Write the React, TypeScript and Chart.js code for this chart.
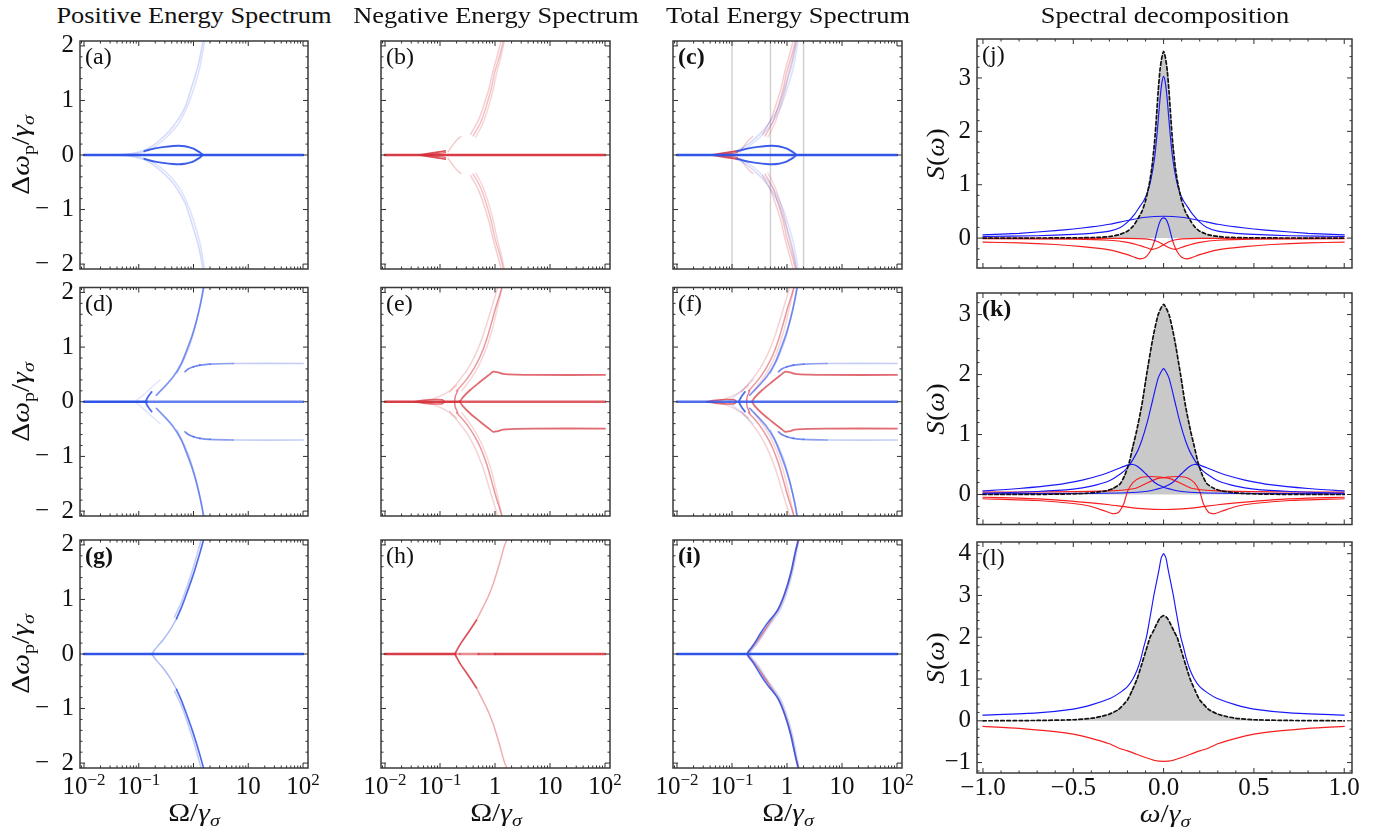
import React, { useEffect, useRef } from "react";
import { Chart, registerables } from "chart.js";

Chart.register(...registerables);

type P = [number, number];
type ColorFn = (x: number, y: number) => string;

const SERIF = '"Liberation Serif", "Times New Roman", serif';
const blue = (a: number) => `rgba(48, 84, 232, ${a})`;
const red = (a: number) => `rgba(214, 50, 60, ${a})`;
const SBLUE = "rgb(24, 24, 250)";
const SRED = "rgb(246, 30, 30)";
const GRIDLINE = "rgba(175, 175, 175, 0.6)";
const FILL = "rgb(201, 201, 201)";

// ================= axis ticks / labels =================
const omegaMajor = [0.01, 0.1, 1, 10, 100];
const omegaLabels: [string, string][] = [["10", "−2"], ["10", "−1"], ["1", ""], ["10", ""], ["10", "2"]];
const dwMajor = [-2, -1, 0, 1, 2];
const dwLabels = ["−\u20022", "−\u20021", "0", "1", "2"];
const wMajor = [-1, -0.5, 0, 0.5, 1];
const wLabels = ["−1.0", "−0.5", "0.0", "0.5", "1.0"];
const sMajorJK = [0, 1, 2, 3];
const sLabelsJK = ["0", "1", "2", "3"];
const sMajorL = [-1, 0, 1, 2, 3, 4];
const sLabelsL = ["−1", "0", "1", "2", "3", "4"];

// ================= spectra: [Ω/γσ, Δωp/γσ] =================
const zeroLine: P[] = [[0.01, 0], [0.1, 0], [0.14, 0], [0.19, 0], [0.23, 0], [0.5, 0], [1, 0], [100, 0]];
const markerOmegas = [0.1, 0.5, 2];

// (a) positive energy, weak drive
const posLoopUpper: P[] = [[0.126, 0.07], [0.16, 0.1], [0.21, 0.125], [0.3, 0.15], [0.42, 0.165], [0.54, 0.17], [0.7, 0.16], [0.85, 0.14], [1.0, 0.115], [1.2, 0.07], [1.35, 0.035], [1.5, 0]];
const posFaintA: P[] = [[0.04, 0], [0.08, 0.03], [0.12, 0.08], [0.18, 0.17], [0.244, 0.275], [0.37, 0.45], [0.5, 0.62], [0.7, 0.88], [0.93, 1.25], [1.22, 1.65], [1.5, 2.1], [1.6, 2.3]];
const posFaintB: P[] = [[0.05, 0], [0.1, 0.03], [0.15, 0.08], [0.2, 0.16], [0.28, 0.27], [0.4, 0.42], [0.55, 0.6], [0.78, 0.9], [1.0, 1.2], [1.3, 1.6], [1.6, 2.1], [1.7, 2.3]];

// (b) negative energy, weak drive
const negArrowOuter: P[] = [[0.042, 0], [0.06, 0.025], [0.09, 0.052], [0.125, 0.075]];
const negArrowInner: P[] = [[0.05, 0], [0.075, 0.018], [0.105, 0.035], [0.125, 0.045]];
const negFaintTip: P[] = [[0.14, 0.06], [0.17, 0.18], [0.2, 0.27], [0.24, 0.34]];
const negFaint1: P[] = [[0.4, 0.35], [0.55, 0.6], [0.69, 0.89], [0.85, 1.2], [0.98, 1.5], [1.2, 1.8], [1.39, 2.05], [1.5, 2.25]];
const negFaint2: P[] = [[0.36, 0.38], [0.5, 0.64], [0.63, 0.92], [0.78, 1.22], [0.9, 1.5], [1.1, 1.82], [1.3, 2.1], [1.4, 2.25]];
const negFaint3: P[] = [[0.45, 0.33], [0.6, 0.58], [0.76, 0.88], [0.92, 1.18], [1.06, 1.48], [1.28, 1.8], [1.48, 2.1], [1.58, 2.25]];

// (d) positive energy, intermediate drive
const dHook: P[] = [[0.172, 0.18], [0.15, 0.1], [0.137, 0.03], [0.135, 0], [0.137, -0.03], [0.15, -0.1], [0.172, -0.18]];
const dRise: P[] = [[0.21, 0.12], [0.3, 0.28], [0.43, 0.46], [0.6, 0.7], [0.75, 0.94], [0.95, 1.22], [1.14, 1.49], [1.35, 1.8], [1.51, 2.05], [1.6, 2.2]];
const dRiseCopy: P[] = [[0.5, 0.52], [0.7, 0.82], [0.9, 1.1], [1.15, 1.5], [1.4, 1.9], [1.55, 2.2]];
const dFaintV: P[] = [[0.085, 0], [0.12, 0.12], [0.17, 0.26], [0.245, 0.4]];
const dPlateau: P[] = [[0.7, 0.55], [0.8, 0.6], [1.0, 0.64], [1.31, 0.67], [2, 0.69], [5.3, 0.7], [100, 0.7]];

// (e) negative energy, intermediate drive
const eFish: P[] = [[0.035, 0], [0.05, 0.025], [0.08, 0.04], [0.11, 0.035], [0.12, 0]];
const eFaintV: P[] = [[0.06, 0.02], [0.1, 0.1], [0.15, 0.2], [0.2, 0.3]];
const eHook: P[] = [[0.21, 0.2], [0.19, 0.1], [0.185, 0], [0.19, -0.1], [0.21, -0.2]];
const eRise1: P[] = [[0.2, 0.2], [0.3, 0.4], [0.42, 0.62], [0.55, 0.85], [0.7, 1.13], [0.85, 1.42], [1.05, 1.75], [1.3, 2.05], [1.4, 2.2]];
const eRise2: P[] = [[0.15, 0.18], [0.22, 0.38], [0.32, 0.6], [0.45, 0.88], [0.6, 1.2], [0.8, 1.6], [1.05, 2.0], [1.2, 2.2]];
const eRise3: P[] = [[0.25, 0.2], [0.38, 0.45], [0.5, 0.65], [0.65, 0.9], [0.85, 1.25], [1.1, 1.7], [1.35, 2.1], [1.45, 2.2]];
const ePlateau: P[] = [[0.23, 0], [0.26, 0.08], [0.35, 0.21], [0.53, 0.36], [0.75, 0.48], [0.93, 0.55], [1.1, 0.54], [1.4, 0.51], [2.5, 0.495], [5, 0.49], [100, 0.49]];

// (g)-(i) strong drive
const gRiseLow: P[] = [[0.172, 0], [0.19, 0.06], [0.22, 0.14], [0.28, 0.26], [0.38, 0.45], [0.49, 0.65]];
const gRiseHigh: P[] = [[0.49, 0.65], [0.6, 0.85], [0.75, 1.11], [0.95, 1.4], [1.14, 1.65], [1.35, 1.9], [1.51, 2.08], [1.6, 2.2]];
const gRiseCopy: P[] = [[0.45, 0.68], [0.6, 0.95], [0.8, 1.3], [1.0, 1.6], [1.3, 2.0], [1.45, 2.2]];
const hRiseStrong: P[] = [[0.187, 0], [0.2, 0.06], [0.24, 0.2], [0.33, 0.4], [0.46, 0.62]];
const hRiseFaint: P[] = [[0.46, 0.62], [0.6, 0.85], [0.75, 1.05], [0.93, 1.29], [1.2, 1.65], [1.45, 1.95], [1.64, 2.1], [1.7, 2.2]];
const iBlueRise: P[] = [[0.187, 0], [0.2, 0.05], [0.25, 0.18], [0.33, 0.38], [0.45, 0.58], [0.67, 0.8], [0.9, 1.1], [1.16, 1.47], [1.4, 1.85], [1.58, 2.08], [1.65, 2.2]];
const iRedRise: P[] = [[0.187, 0], [0.21, 0.06], [0.27, 0.2], [0.36, 0.38], [0.5, 0.6], [0.72, 0.85], [0.95, 1.15], [1.2, 1.5], [1.45, 1.9], [1.65, 2.1], [1.72, 2.2]];
const iBlueHalo: P[] = [[0.2, 0], [0.23, 0.08], [0.3, 0.22], [0.4, 0.42], [0.55, 0.62], [0.75, 0.82], [1.0, 1.15], [1.25, 1.5], [1.5, 1.9], [1.7, 2.2]];

// ================= spectral decomposition: [ω/γσ, S(ω)] (half = ω ≥ 0) =================
const jTotalHalf: P[] = [[0, 3.5], [0.01, 3.38], [0.02, 3.15], [0.03, 2.75], [0.04, 2.25], [0.05, 1.8], [0.065, 1.32], [0.08, 1.0], [0.1, 0.7], [0.12, 0.5], [0.15, 0.32], [0.17, 0.22], [0.2, 0.13], [0.25, 0.06], [0.3, 0.03], [0.35, 0.015], [0.45, 0.007], [0.6, 0.003], [0.8, 0.001], [1, 0]];
const jTallHalf: P[] = [[0, 3.03], [0.01, 2.9], [0.02, 2.6], [0.035, 2.0], [0.05, 1.5], [0.07, 1.1], [0.09, 0.85], [0.11, 0.7], [0.13, 0.6], [0.16, 0.45], [0.2, 0.3], [0.24, 0.2], [0.3, 0.13], [0.4, 0.09], [0.5, 0.07], [0.7, 0.045], [1, 0.03]];
const jWideHalf: P[] = [[0, 0.41], [0.1, 0.39], [0.2, 0.33], [0.3, 0.26], [0.4, 0.21], [0.5, 0.17], [0.6, 0.14], [0.8, 0.09], [1, 0.06]];
const jHumpHalf: P[] = [[0, 0.38], [0.01, 0.365], [0.02, 0.31], [0.03, 0.21], [0.04, 0.08], [0.05, -0.05], [0.063, -0.17], [0.08, -0.28], [0.1, -0.36], [0.13, -0.39], [0.16, -0.36], [0.2, -0.31], [0.3, -0.22], [0.45, -0.16], [0.6, -0.12], [0.8, -0.09], [1, -0.075]];
const jSkewLeft: P[] = [[-1, -0.01], [-0.5, -0.02], [-0.3, -0.04], [-0.2, -0.08], [-0.12, -0.15], [-0.067, -0.21], [-0.03, -0.18], [0, -0.125], [0.03, -0.07], [0.06, -0.035], [0.1, -0.015], [0.2, -0.005], [1, 0]];

const kTotalHalf: P[] = [[0, 3.17], [0.03, 3.0], [0.06, 2.6], [0.094, 2.0], [0.12, 1.5], [0.15, 1.05], [0.17, 0.8], [0.19, 0.54], [0.215, 0.32], [0.24, 0.18], [0.28, 0.1], [0.32, 0.06], [0.43, 0.02], [0.6, 0.005], [1, 0]];
const kCenterHalf: P[] = [[0, 2.1], [0.03, 1.94], [0.06, 1.58], [0.09, 1.21], [0.12, 0.91], [0.15, 0.69], [0.2, 0.45], [0.25, 0.32], [0.3, 0.23], [0.4, 0.14], [0.5, 0.09], [0.7, 0.05], [1, 0.02]];
const kHumpLeft: P[] = [[-1, 0.06], [-0.8, 0.1], [-0.6, 0.16], [-0.45, 0.24], [-0.35, 0.32], [-0.26, 0.42], [-0.2, 0.49], [-0.17, 0.5], [-0.14, 0.46], [-0.1, 0.35], [-0.05, 0.2], [0, 0.12], [0.05, 0.08], [0.1, 0.05], [0.2, 0.03], [0.4, 0.02], [1, 0.01]];
const kRedWLeft: P[] = [[-1, -0.07], [-0.7, -0.1], [-0.5, -0.15], [-0.4, -0.2], [-0.32, -0.28], [-0.28, -0.32], [-0.25, -0.3], [-0.22, -0.15], [-0.2, 0.05], [-0.17, 0.2], [-0.13, 0.28], [-0.08, 0.3], [-0.02, 0.29], [0.04, 0.26], [0.1, 0.18], [0.16, 0.1], [0.3, 0.06], [0.6, 0.045], [1, 0.04]];
const kRedBroadHalf: P[] = [[0, -0.25], [0.1, -0.24], [0.2, -0.21], [0.3, -0.17], [0.4, -0.14], [0.6, -0.09], [0.8, -0.06], [1, -0.045]];

const lTotalHalf: P[] = [[0, 2.52], [0.02, 2.46], [0.04, 2.3], [0.06, 2.12], [0.075, 2.0], [0.1, 1.65], [0.125, 1.3], [0.147, 1.0], [0.175, 0.72], [0.2, 0.5], [0.25, 0.27], [0.3, 0.16], [0.35, 0.1], [0.4, 0.06], [0.5, 0.025], [0.7, 0.008], [1, 0]];
const lBlueHalf: P[] = [[0, 4.0], [0.013, 3.9], [0.026, 3.6], [0.04, 3.3], [0.054, 3.0], [0.068, 2.65], [0.081, 2.33], [0.095, 2.0], [0.109, 1.78], [0.125, 1.5], [0.146, 1.22], [0.17, 1.0], [0.2, 0.82], [0.25, 0.65], [0.294, 0.54], [0.4, 0.38], [0.5, 0.28], [0.7, 0.19], [1, 0.135]];
const lRedHalf: P[] = [[0, -0.97], [0.05, -0.95], [0.1, -0.88], [0.15, -0.8], [0.2, -0.72], [0.25, -0.65], [0.3, -0.55], [0.4, -0.42], [0.5, -0.32], [0.6, -0.26], [0.8, -0.18], [1, -0.135]];

// ================= helpers =================
const flipY = (d: P[]): P[] => d.map(([x, y]) => [x, -y] as P);
const flipX = (d: P[]): P[] => d.map(([x, y]) => [-x, y] as P).reverse();
const sym = (h: P[]): P[] => [...flipX(h.slice(1)), ...h];

type DS = { data: P[]; color: string | ColorFn; width: number; dash?: number[]; fill?: string; tension?: number };
const ds = (data: P[], color: string | ColorFn, width = 1.5, extra: Partial<DS> = {}): DS => ({ data, color, width, ...extra });
const pair = (data: P[], color: string | ColorFn, width = 1.5): DS[] => [ds(data, color, width), ds(flipY(data), color, width)];

function toDataset(d: DS, i: number, n: number) {
  const o: any = {
    data: d.data.map(([x, y]) => ({ x, y })),
    borderColor: typeof d.color === "string" ? d.color : "#000",
    borderWidth: d.width,
    pointRadius: 0,
    tension: d.tension ?? 0.3,
    fill: d.fill ? "origin" : false,
    backgroundColor: d.fill ?? "transparent",
    borderDash: d.dash ?? [],
    borderCapStyle: "round",
    clip: 0,
    order: n - i,
  };
  if (typeof d.color === "function") {
    const fn = d.color;
    o.segment = { borderColor: (c: any) => fn((c.p0.parsed.x + c.p1.parsed.x) / 2, (c.p0.parsed.y + c.p1.parsed.y) / 2) };
  }
  return o;
}

// ================= styles as functions =================
const fadeBlue: ColorFn = (x) => blue(x <= 1 ? 0.7 : Math.max(0.22, 0.7 - 0.24 * Math.log10(x)));
const zeroD: ColorFn = (x) => (x < 0.14 ? blue(1) : blue(0.75));
const zeroE: ColorFn = (x) => (x < 0.23 ? red(0.95) : red(0.8));
const zeroH: ColorFn = (x) => (x < 0.19 ? red(0.95) : x < 1 ? red(0.4 + 0.4 * (Math.log10(x) + 0.72) / 0.72) : red(0.88));
const bySign: ColorFn = (_x, y) => (y >= 0 ? SBLUE : SRED);

// ================= panel series =================
const aFaint = [...pair(posFaintA, blue(0.22)), ...pair(posFaintB, blue(0.17))];
const aLoop = pair(posLoopUpper, blue(0.95), 1.9);
const bFaint = [
  ...pair(negFaint1, red(0.3)), ...pair(negFaint2, red(0.24)), ...pair(negFaint3, red(0.2)), ...pair(negFaintTip, red(0.25)),
];
const bArrow = [...pair(negArrowOuter, red(0.85), 1.6), ...pair(negArrowInner, red(0.7), 1.4)];
const dLines = [
  ...pair(dFaintV, blue(0.15)), ...pair(dRiseCopy, blue(0.25)), ...pair(dRise, blue(0.62), 1.7),
  ds(dHook, blue(0.85), 1.8), ...pair(dPlateau, fadeBlue, 1.7),
];
const eFaint = [
  ...pair(eFaintV, red(0.2)), ...pair(eRise2, red(0.22)), ...pair(eRise3, red(0.2)), ...pair(eRise1, red(0.5)),
];
const eMain = [ds(eHook, red(0.6)), ...pair(eFish, red(0.75), 1.6), ...pair(ePlateau, red(0.72), 1.8)];
const vLines = markerOmegas.map((o) => ds([[o, -2.3], [o, 2.3]], GRIDLINE, 1.4));

const totalFill = (h: P[]) => ds(sym(h), "transparent", 0, { fill: FILL, tension: 0.2 });
const totalDash = (h: P[]) => ds(sym(h), "#111", 1.7, { dash: [3.5, 2.5], tension: 0.2 });
const sl = (d: P[], c: string | ColorFn) => ds(d, c, 1.15, { tension: 0.2 });

type Spec = {
  key: string; bold?: boolean;
  left: number; right: number; top: number; bottom: number;
  log: boolean; xMin: number; xMax: number; yMin: number; yMax: number;
  xMajor: number[]; xMinor: number[]; yMajor: number[]; yMinor: number[];
  xLabels?: (string | [string, string])[]; yLabels?: string[]; xLabelDy?: number;
  series: DS[];
};

const COLS = [[80, 308], [381, 610], [673, 902], [977, 1352]];
const ROWS_L = [[41, 269], [287.5, 516], [540, 768]];
const ROWS_R = [[39, 268], [293, 524.5], [542, 773]];
const PAD = { l: 72, r: 22, t: 10, b: 50 };

const logMinor: number[] = [];
for (let e = -3; e <= 2; e++) for (let k = 2; k <= 9; k++) logMinor.push(k * Math.pow(10, e));
const stepMinor = (a: number, b: number, s: number, majorStep: number) => {
  const out: number[] = [];
  for (let v = a; v <= b + 1e-9; v += s) {
    const r = Math.round(v * 1000) / 1000;
    if (Math.abs(r / majorStep - Math.round(r / majorStep)) > 1e-6) out.push(r);
  }
  return out;
};
const dwMinor = stepMinor(-2, 2, 0.2, 1);
const wMinor = stepMinor(-1, 1, 0.1, 0.5);

const OM_MIN = Math.pow(10, -2.073), OM_MAX = Math.pow(10, 2.091);

function leftSpec(key: string, col: number, row: number, series: DS[], bold = false): Spec {
  return {
    key, bold, left: COLS[col][0], right: COLS[col][1], top: ROWS_L[row][0], bottom: ROWS_L[row][1],
    log: true, xMin: OM_MIN, xMax: OM_MAX, yMin: -2.09, yMax: 2.09,
    xMajor: omegaMajor, xMinor: logMinor, yMajor: dwMajor, yMinor: dwMinor,
    xLabels: row === 2 ? omegaLabels : undefined, yLabels: col === 0 ? dwLabels : undefined, xLabelDy: 26,
    series,
  };
}
function rightSpec(key: string, row: number, yMin: number, yMax: number, yMajor: number[], yLabels: string[], series: DS[], bold = false): Spec {
  return {
    key, bold, left: COLS[3][0], right: COLS[3][1], top: ROWS_R[row][0], bottom: ROWS_R[row][1],
    log: false, xMin: -1.033, xMax: 1.043, yMin, yMax,
    xMajor: wMajor, xMinor: wMinor, yMajor, yMinor: stepMinor(Math.ceil(yMin * 5) / 5, yMax, 0.2, 1),
    xLabels: row === 2 ? wLabels : undefined, yLabels, xLabelDy: 22,
    series,
  };
}

const PANELS: Spec[] = [
  leftSpec("a", 0, 0, [...aFaint, ...aLoop, ds(zeroLine, blue(1), 2.4)]),
  leftSpec("b", 1, 0, [...bFaint, ...bArrow, ds(zeroLine, red(0.95), 2.4)]),
  leftSpec("c", 2, 0, [...vLines, ...bFaint, ...aFaint, ...bArrow, ...aLoop, ds(zeroLine, blue(1), 2.4)], true),
  leftSpec("d", 0, 1, [...dLines, ds(zeroLine, zeroD, 2.4)]),
  leftSpec("e", 1, 1, [...eFaint, ...eMain, ds(zeroLine, zeroE, 2.4)]),
  leftSpec("f", 2, 1, [...eFaint, ...dLines, ...eMain, ds(zeroLine, blue(0.85), 2.4)]),
  leftSpec("g", 0, 2, [...pair(gRiseCopy, blue(0.3)), ...pair(gRiseLow, blue(0.4)), ...pair(gRiseHigh, blue(0.85), 1.7), ds(zeroLine, blue(1), 2.4)], true),
  leftSpec("h", 1, 2, [...pair(hRiseFaint, red(0.4)), ...pair(hRiseStrong, red(0.85), 1.7), ds(zeroLine, zeroH, 2.4)]),
  leftSpec("i", 2, 2, [...pair(iBlueHalo, blue(0.25), 2), ...pair(iRedRise, red(0.6)), ...pair(iBlueRise, blue(0.9), 1.6), ds(zeroLine, blue(1), 2.4)], true),
  rightSpec("j", 0, -0.56, 3.73, sMajorJK, sLabelsJK, [
    totalFill(jTotalHalf), sl(jSkewLeft, SRED), sl(flipX(jSkewLeft), SRED), sl(sym(jHumpHalf), bySign),
    sl(sym(jWideHalf), SBLUE), sl(sym(jTallHalf), SBLUE), totalDash(jTotalHalf),
  ]),
  rightSpec("k", 1, -0.5, 3.36, sMajorJK, sLabelsJK, [
    totalFill(kTotalHalf), sl(sym(kRedBroadHalf), SRED), sl(kRedWLeft, SRED), sl(flipX(kRedWLeft), SRED),
    sl(kHumpLeft, SBLUE), sl(flipX(kHumpLeft), SBLUE), sl(sym(kCenterHalf), SBLUE), totalDash(kTotalHalf),
  ], true),
  rightSpec("l", 2, -1.25, 4.28, sMajorL, sLabelsL, [
    totalFill(lTotalHalf), sl(sym(lRedHalf), SRED), sl(sym(lBlueHalf), SBLUE), totalDash(lTotalHalf),
  ]),
];

// ================= frame / ticks / labels plugin =================
function makeFrame(spec: Spec) {
  return {
    id: "frame_" + spec.key,
    afterDatasetsDraw(chart: any) {
      const { ctx, chartArea: a } = chart;
      const xs = chart.scales.x, ys = chart.scales.y;
      ctx.save();
      ctx.strokeStyle = "#2e2e2e";
      ctx.lineWidth = 1;
      ctx.beginPath();
      const xt = (vals: number[], len: number) =>
        vals.forEach((v) => {
          const p = xs.getPixelForValue(v);
          if (p < a.left + 1 || p > a.right - 1) return;
          ctx.moveTo(p, a.bottom); ctx.lineTo(p, a.bottom - len);
          ctx.moveTo(p, a.top); ctx.lineTo(p, a.top + len);
        });
      const yt = (vals: number[], len: number) =>
        vals.forEach((v) => {
          const p = ys.getPixelForValue(v);
          if (p < a.top + 1 || p > a.bottom - 1) return;
          ctx.moveTo(a.left, p); ctx.lineTo(a.left + len, p);
          ctx.moveTo(a.right, p); ctx.lineTo(a.right - len, p);
        });
      xt(spec.xMajor, 5); xt(spec.xMinor, 2.5); yt(spec.yMajor, 5); yt(spec.yMinor, 2.5);
      ctx.stroke();
      ctx.lineWidth = 1.5;
      ctx.strokeStyle = "#3a3a3a";
      ctx.strokeRect(a.left, a.top, a.right - a.left, a.bottom - a.top);

      ctx.fillStyle = "#111";
      ctx.textAlign = "left";
      ctx.textBaseline = "alphabetic";
      ctx.font = `${spec.bold ? "bold " : ""}24px ${SERIF}`;
      ctx.fillText(`(${spec.key})`, a.left + 5, a.top + 23);

      if (spec.yLabels) {
        ctx.font = `25px ${SERIF}`;
        ctx.textAlign = "right";
        ctx.textBaseline = "middle";
        spec.yMajor.forEach((v, i) => ctx.fillText(spec.yLabels![i], a.left - 6, ys.getPixelForValue(v)));
      }
      if (spec.xLabels) {
        ctx.textBaseline = "alphabetic";
        ctx.textAlign = "left";
        const by = a.bottom + (spec.xLabelDy ?? 24);
        spec.xMajor.forEach((v, i) => {
          const lab = spec.xLabels![i];
          const px = xs.getPixelForValue(v);
          if (typeof lab === "string") {
            ctx.font = `25px ${SERIF}`;
            const w = ctx.measureText(lab).width;
            ctx.fillText(lab, px - w / 2, by);
          } else {
            ctx.font = `25px ${SERIF}`;
            const wb = ctx.measureText(lab[0]).width;
            ctx.font = `17px ${SERIF}`;
            const we = lab[1] ? ctx.measureText(lab[1]).width : 0;
            const x0 = px - (wb + we) / 2;
            ctx.font = `25px ${SERIF}`;
            ctx.fillText(lab[0], x0, by);
            if (lab[1]) {
              ctx.font = `17px ${SERIF}`;
              ctx.fillText(lab[1], x0 + wb, by - 9);
            }
          }
        });
      }
      ctx.restore();
    },
  };
}

function Panel({ spec }: { spec: Spec }) {
  const ref = useRef<HTMLCanvasElement | null>(null);
  const cl = Math.floor(spec.left - PAD.l), ct = Math.floor(spec.top - PAD.t);
  const cr = Math.ceil(spec.right + PAD.r), cb = Math.ceil(spec.bottom + PAD.b);
  const w = cr - cl, h = cb - ct;
  useEffect(() => {
    const n = spec.series.length;
    const chart = new Chart(ref.current as HTMLCanvasElement, {
      type: "line",
      data: { datasets: spec.series.map((s, i) => toDataset(s, i, n)) } as any,
      options: {
        responsive: false,
        animation: false,
        devicePixelRatio: 1,
        events: [],
        layout: { padding: { left: spec.left - cl, right: cr - spec.right, top: spec.top - ct, bottom: cb - spec.bottom } },
        plugins: { legend: { display: false }, tooltip: { enabled: false } },
        scales: {
          x: { type: spec.log ? "logarithmic" : "linear", min: spec.xMin, max: spec.xMax, display: false },
          y: { type: "linear", min: spec.yMin, max: spec.yMax, display: false },
        },
      } as any,
      plugins: [makeFrame(spec)] as any,
    });
    return () => chart.destroy();
  }, []);
  return <canvas ref={ref} width={w} height={h} style={{ position: "absolute", left: cl, top: ct, width: w, height: h }} />;
}

// ================= text overlays =================
const subS: React.CSSProperties = { fontSize: "0.68em", verticalAlign: "-0.32em", lineHeight: 0 };
const base: React.CSSProperties = { position: "absolute", whiteSpace: "nowrap", fontFamily: SERIF, lineHeight: 1, color: "#111" };

const TITLES: [string, number][] = [
  ["Positive Energy Spectrum", 194],
  ["Negative Energy Spectrum", 495.5],
  ["Total Energy Spectrum", 787.5],
  ["Spectral decomposition", 1164.5],
];

function DwLabel() {
  return (
    <span>
      Δ<i>ω</i><span style={subS}>p</span>/<i>γ</i><span style={subS}><i>σ</i></span>
    </span>
  );
}
function OmegaLabel({ big }: { big: boolean }) {
  return (
    <span>
      {big ? "Ω" : <i>ω</i>}/<i>γ</i><span style={subS}><i>σ</i></span>
    </span>
  );
}

export default function App() {
  return (
    <div style={{ position: "absolute", left: 0, top: 0, width: 1393, height: 829, background: "#fff", overflow: "hidden" }}>
      {PANELS.map((p) => (
        <Panel key={p.key} spec={p} />
      ))}
      {TITLES.map(([t, cx]) => (
        <div key={t} style={{ ...base, left: cx, top: 15, fontSize: 24, transform: "translate(-50%, -50%) scaleX(1.1)" }}>
          {t}
        </div>
      ))}
      {ROWS_L.map(([t, b], i) => (
        <div key={"dw" + i} style={{ ...base, left: 20, top: (t + b) / 2, fontSize: 25, transform: "translate(-50%, -50%) rotate(-90deg) scaleX(1.18)" }}>
          <DwLabel />
        </div>
      ))}
      {ROWS_R.map(([t, b], i) => (
        <div key={"s" + i} style={{ ...base, left: 935, top: (t + b) / 2, fontSize: 25, transform: "translate(-50%, -50%) rotate(-90deg) scaleX(1.1)" }}>
          <i>S</i>(<i>ω</i>)
        </div>
      ))}
      {[0, 1, 2].map((c) => (
        <div key={"ox" + c} style={{ ...base, left: (COLS[c][0] + COLS[c][1]) / 2, top: 812, fontSize: 25, transform: "translate(-50%, -50%) scaleX(1.18)" }}>
          <OmegaLabel big={true} />
        </div>
      ))}
      <div style={{ ...base, left: (COLS[3][0] + COLS[3][1]) / 2, top: 813, fontSize: 25, transform: "translate(-50%, -50%) scaleX(1.18)" }}>
        <OmegaLabel big={false} />
      </div>
    </div>
  );
}
